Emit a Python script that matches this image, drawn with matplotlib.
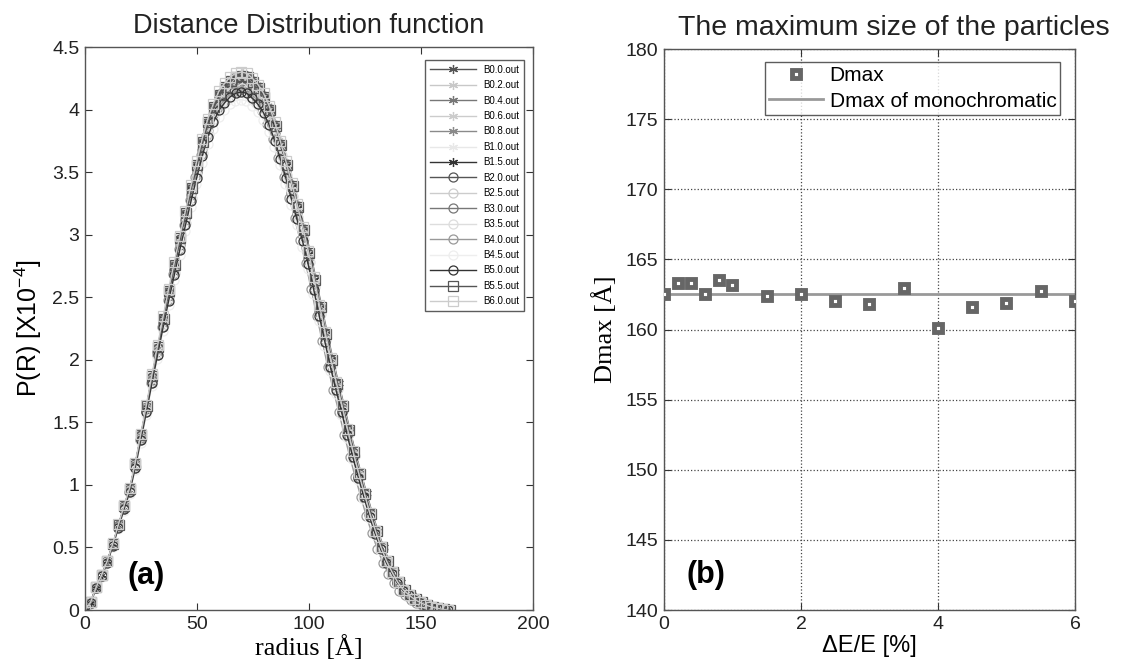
import numpy as np
import matplotlib
matplotlib.use("Agg")
import matplotlib.pyplot as plt

plt.rcParams['font.family'] = ['Liberation Sans', 'DejaVu Sans']
plt.rcParams['mathtext.fontset'] = 'custom'
plt.rcParams['mathtext.rm'] = 'Liberation Sans'
plt.rcParams['mathtext.it'] = 'Liberation Sans'

# P(R) profile, radius step 2.5 A
radius = np.arange(0, 165, 2.5)
p_base = [0.0, 0.06, 0.18, 0.28, 0.39, 0.53, 0.68, 0.83, 0.97, 1.17,
          1.40, 1.63, 1.87, 2.10, 2.33, 2.55, 2.76, 2.97, 3.17, 3.37,
          3.56, 3.74, 3.90, 4.02, 4.12, 4.18, 4.23, 4.26, 4.27, 4.26,
          4.22, 4.17, 4.10, 4.00, 3.87, 3.72, 3.56, 3.39, 3.22, 3.04,
          2.85, 2.64, 2.42, 2.21, 2.00, 1.81, 1.63, 1.44, 1.26, 1.09,
          0.93, 0.77, 0.63, 0.50, 0.39, 0.30, 0.22, 0.16, 0.12, 0.085,
          0.06, 0.04, 0.025, 0.014, 0.006, 0.0]

files = ['B0.0.out', 'B0.2.out', 'B0.4.out', 'B0.6.out', 'B0.8.out', 'B1.0.out',
         'B1.5.out', 'B2.0.out', 'B2.5.out', 'B3.0.out', 'B3.5.out', 'B4.0.out',
         'B4.5.out', 'B5.0.out', 'B5.5.out', 'B6.0.out']
peaks = [4.28, 4.29, 4.27, 4.26, 4.28, 4.25, 4.26, 4.26, 4.22, 4.20,
         4.17, 4.15, 4.08, 4.14, 4.27, 4.30]
colors = ['#555555', '#c8c8c8', '#777777', '#cccccc', '#8a8a8a', '#e8e8e8',
          '#333333', '#555555', '#cccccc', '#777777', '#dddddd', '#999999',
          '#eeeeee', '#333333', '#555555', '#cccccc']
markers = ['*', '*', '*', '*', '*', '*', '*', 'o', 'o', 'o', 'o', 'o', 'o', 'o', 's', 's']

# panel (b)
dE = [0, 0.2, 0.4, 0.6, 0.8, 1.0, 1.5, 2.0, 2.5, 3.0, 3.5, 4.0, 4.5, 5.0, 5.5, 6.0]
dmax = [162.5, 163.35, 163.35, 162.5, 163.5, 163.2, 162.4, 162.5, 162.0, 161.85,
        162.95, 160.1, 161.6, 161.9, 162.75, 162.0]
dmax_mono = 162.5

fig = plt.figure(figsize=(11.3, 6.65), dpi=100)
ax1 = fig.add_axes([0.0752, 0.0827, 0.3965, 0.8466])
ax2 = fig.add_axes([0.5876, 0.0827, 0.3637, 0.8436])

base = np.array(p_base)
for f, pk, c, m, d in zip(files, peaks, colors, markers, dmax):
    r = radius * d / dmax_mono
    y = base * pk / base.max()
    mk = (6, 2, 0) if m == '*' else m
    ax1.plot(r, y, color=c, lw=1.0, marker=mk, ms=6.5, mfc='none', mec=c,
             mew=0.9, label=f)

ax1.set_xlim(0, 200)
ax1.set_ylim(0, 4.5)
ax1.set_xticks([0, 50, 100, 150, 200])
ax1.set_yticks(np.arange(0, 4.51, 0.5))
ax1.set_yticklabels(['0', '0.5', '1', '1.5', '2', '2.5', '3', '3.5', '4', '4.5'])
ax1.set_title('Distance Distribution function', fontsize=19.5, color='#222222', pad=10)
ax1.set_xlabel('radius [Å]', family=['Liberation Serif', 'DejaVu Serif'], fontsize=19,
               labelpad=2)
ax1.set_ylabel('P(R) [X10$^{-4}$]', fontsize=18, labelpad=6)
leg1 = ax1.legend(loc='upper right', fontsize=7, handlelength=4.7, labelspacing=0.56,
                  borderpad=0.45, frameon=True, fancybox=False,
                  bbox_to_anchor=(0.99, 0.985))
leg1.get_frame().set_edgecolor('#333333')
leg1.get_frame().set_linewidth(1.0)
ax1.text(0.095, 0.06, '(a)', transform=ax1.transAxes, fontsize=22,
         fontweight='bold', va='center')

ax2.plot(dE, dmax, ls='none', marker='s', ms=6, mfc='white', mec='#666666',
         mew=3.5, label='Dmax', zorder=3)
ax2.plot([dE[0], dE[-1]], [dmax_mono, dmax_mono], color='#999999', lw=2,
         label='Dmax of monochromatic', zorder=2)
ax2.set_xlim(0, 6)
ax2.set_ylim(140, 180)
ax2.set_xticks([0, 2, 4, 6])
ax2.set_yticks(np.arange(140, 181, 5))
ax2.grid(True, ls=':', color='#444444', lw=0.9)
ax2.set_title('The maximum size of the particles', fontsize=20.5, color='#222222',
              pad=10, x=0.56)
ax2.set_xlabel('ΔE/E [%]', fontsize=17, labelpad=2)
ax2.set_ylabel('Dmax [Å]', family=['Liberation Serif', 'DejaVu Serif'], fontsize=19,
               labelpad=6)
leg2 = ax2.legend(loc='upper right', fontsize=15, handlelength=2.6,
                  labelspacing=0.3, borderpad=0.2, handletextpad=0.3,
                  frameon=True, fancybox=False, bbox_to_anchor=(0.99, 0.995))
leg2.get_frame().set_edgecolor('#333333')
leg2.get_frame().set_linewidth(1.0)
ax2.text(0.055, 0.062, '(b)', transform=ax2.transAxes, fontsize=22,
         fontweight='bold', va='center')

for ax in (ax1, ax2):
    ax.tick_params(direction='in', length=5, labelsize=14, top=True, right=True,
                   colors='#333333', labelcolor='#222222', pad=4)
    for s in ax.spines.values():
        s.set_color('#555555')
        s.set_linewidth(1.0)

fig.savefig('out.png', dpi=100, facecolor='white')
